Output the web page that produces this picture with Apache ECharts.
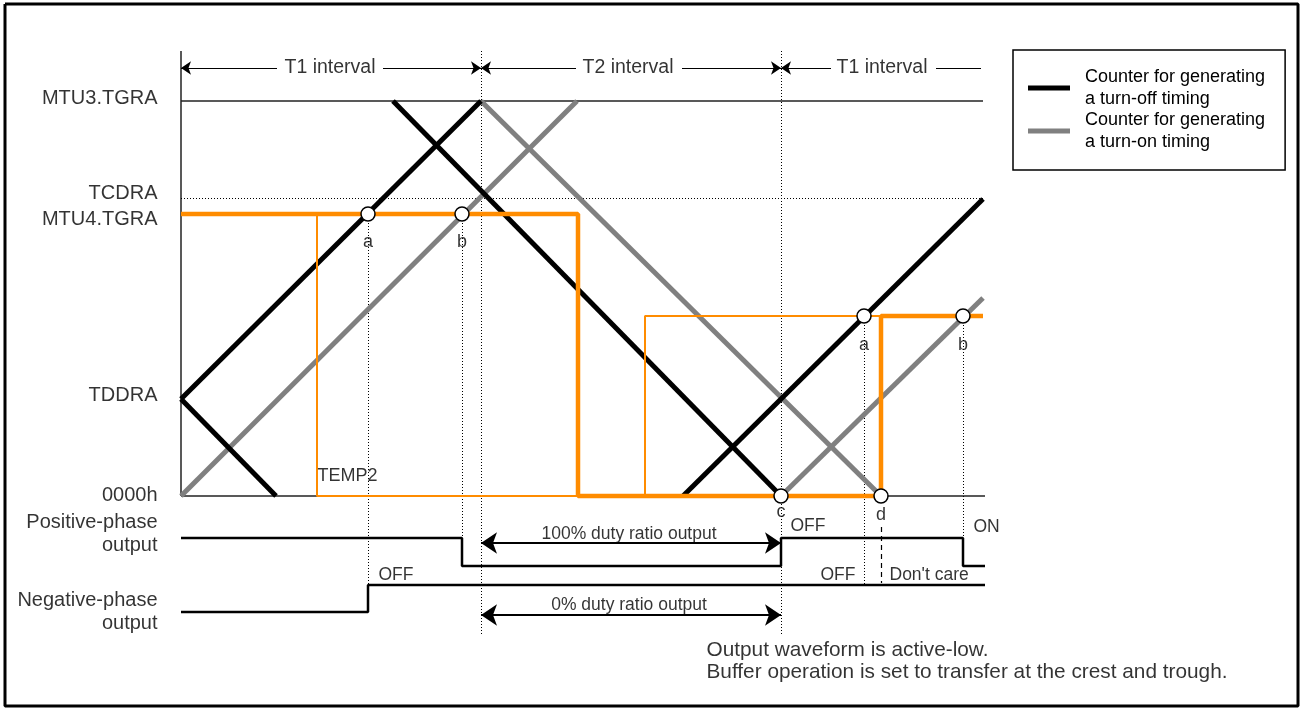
<!DOCTYPE html>
<html><head><meta charset="utf-8">
<script src="https://cdn.jsdelivr.net/npm/echarts@6/dist/echarts.min.js"></script>
<style>html,body{margin:0;padding:0;background:#fff}#c{width:1300px;height:726px}</style>
</head><body><div id="c"></div><script>
// ---------- DATA (x = time units, y = counter value; 0000h = 0) ----------
const OFF_NAME = 'Counter for generating\na turn-off timing';
const ON_NAME = 'Counter for generating\na turn-on timing';

const levelLabels = [['MTU3.TGRA', 398], ['TCDRA', 303], ['MTU4.TGRA', 277], ['TDDRA', 101], ['0000h', 1],
  ['Positive-phase', -26], ['output', -49], ['Negative-phase', -104], ['output', -127]];

const counterOff = [ [[0, 97], [300, 395]], [[212, 395], [600, 0]], [[0, 97], [95, 0]], [[502, 0], [802, 297]] ];
const counterOn = [ [[0, 0], [396, 395]], [[300, 395], [700, 0]], [[600, 0], [802, 198]] ];
const compareMain = [[0, 282], [397, 282], [397, 0], [700, 0], [700, 180], [802, 180]];
const compareTemp2 = [[136, 282], [136, 0], [464, 0], [464, 180], [700, 180]];

const matchPoints = [['a', 187, 282], ['b', 281, 282], ['c', 600, 0], ['d', 700, 0], ['a', 683, 180], ['b', 782, 180]];
const matchLabels = [['a', 187, 254], ['b', 281, 254], ['c', 600, -16], ['d', 700, -19], ['a', 683, 151], ['b', 782, 151]];

const positiveOut = [[0, -42], [281, -42], [281, -70], [600, -70], [600, -42], [782, -42], [782, -70], [804, -70]];
const negativeOut = [[0, -116], [187, -116], [187, -89], [804, -89]];

const refSolid = [ [[0, 395], [802, 395]], [[0, 0], [804, 0]], [[0, 445], [0, 0]] ];
const refDotted = [ [[0, 298], [802, 298]], [[300, 445], [300, -139]], [[600, 445], [600, -139]],
  [[187, 282], [187, -116]], [[281, 282], [281, -42]], [[683, 180], [683, -89]], [[782, 180], [782, -42]] ];
const refDashed = [ [[700, -31], [700, -87]] ];

const intervalNames = [['T1 interval', 149, 428], ['T2 interval', 447, 428], ['T1 interval', 701, 428]];
const intervalLeftArrows = [ [[0, 428], [96, 428]], [[300, 428], [395, 428]], [[600, 428], [650, 428]] ];
const intervalRightArrows = [ [[202, 428], [300, 428]], [[501, 428], [600, 428]] ];
const intervalPlain = [ [[755, 428], [800, 428]] ];

const dutyArrows = [ [[300, -47], [600, -47]], [[300, -119], [600, -119]] ];
const centerTexts = [['100% duty ratio output', 448, -38], ['0% duty ratio output', 448, -109]];
const leftTexts = [['TEMP2', 136, 20], ['OFF', 197, -79], ['OFF', 609, -30], ['ON', 792, -31], ['OFF', 639, -79], ["Don't care", 708, -79]];
const notes = [['Output waveform is active-low.', 525, -154], ['Buffer operation is set to transfer at the crest and trough.', 525, -176]];

const frame = [[-176, 492], [1117, 492], [1117, -210], [-176, -210], [-176, 492]];

// ---------- CHART ----------
const FONT = "'Liberation Sans', Arial, sans-serif";
const series = [];

function seg(name, data, color, width, z, type) {
  series.push({ type: 'line', name: name, data: data, symbol: 'none', color: color, silent: true,
    lineStyle: { color: color, width: width, type: type || 'solid', cap: 'butt' }, z: z, animation: false });
}
function linesSeries(segs, color, width, type, symbol, symbolSize, z) {
  series.push({ type: 'lines', coordinateSystem: 'cartesian2d', silent: true, animation: false, z: z,
    symbol: symbol || ['none', 'none'], symbolSize: symbolSize || 10,
    lineStyle: { color: color, width: width, type: type || 'solid', opacity: 1 },
    data: segs.map(s => ({ coords: s })) });
}
function textSeries(items, pos, fontSize, z) {
  series.push({ type: 'scatter', silent: true, animation: false, symbolSize: 1, z: z || 20,
    itemStyle: { color: 'rgba(0,0,0,0)' },
    label: { show: true, position: pos, distance: 0, formatter: '{b}', color: '#000', fontSize: fontSize, fontFamily: FONT },
    data: items.map(d => ({ name: d[0], value: [d[1], d[2]] })) });
}

seg('_frame', frame, '#000', 3, 1);
linesSeries(refSolid, '#222', 1.5, 'solid', null, null, 2);
linesSeries(refDotted, '#000', 1, [1, 2], null, null, 2);
linesSeries(refDashed, '#000', 1.2, [5, 4], null, null, 2);

counterOn.forEach(s => seg(ON_NAME, s, '#808080', 5, 5));
counterOff.forEach(s => seg(OFF_NAME, s, '#000000', 5, 6));
seg('_temp2', compareTemp2, '#FF8C00', 2, 7);
seg('_compare', compareMain, '#FF8C00', 4.5, 8);

seg('_pos', positiveOut, '#000', 2.5, 4);
seg('_neg', negativeOut, '#000', 2.5, 4);

linesSeries(intervalLeftArrows, '#000', 1.2, 'solid', ['arrow', 'none'], 10, 3);
linesSeries(intervalRightArrows, '#000', 1.2, 'solid', ['none', 'arrow'], 10, 3);
linesSeries(intervalPlain, '#000', 1.2, 'solid', null, null, 3);
linesSeries(dutyArrows, '#000', 2, 'solid', ['arrow', 'arrow'], 16, 3);

series.push({ type: 'scatter', silent: true, animation: false, z: 30, symbol: 'circle', symbolSize: 14,
  itemStyle: { color: '#ffffff', opacity: 1, borderColor: '#000', borderWidth: 1.5 },
  data: matchPoints.map(p => ({ name: p[0], value: [p[1], p[2]] })) });

textSeries(levelLabels.map(l => [l[0], -23, l[1]]), 'left', 20);
textSeries(intervalNames, 'inside', 19.5);
textSeries(matchLabels, 'inside', 18);
textSeries(centerTexts, 'inside', 17.5);
textSeries(leftTexts.slice(0, 1), 'right', 18);
textSeries(leftTexts.slice(1), 'right', 17.5);
textSeries(notes, 'right', 20.8);

const chart = echarts.init(document.getElementById('c'), null, { renderer: 'canvas' });
chart.setOption({
  animation: false,
  backgroundColor: '#fff',
  grid: { left: 0, right: 0, top: 0, bottom: 0 },
  xAxis: { type: 'value', min: -181, max: 1119, show: false },
  yAxis: { type: 'value', min: -230, max: 496, show: false },
  legend: {
    data: [{ name: OFF_NAME, icon: 'rect' }, { name: ON_NAME, icon: 'rect' }],
    orient: 'vertical', left: 1013, top: 50,
    borderColor: '#000', borderWidth: 1.5, padding: [16, 20, 17, 15],
    itemWidth: 42, itemHeight: 5, itemGap: -1,
    selectedMode: false,
    textStyle: { fontSize: 18, lineHeight: 22, color: '#000', fontFamily: FONT, padding: [0, 0, 0, 10] }
  },
  series: series
});
</script></body></html>
